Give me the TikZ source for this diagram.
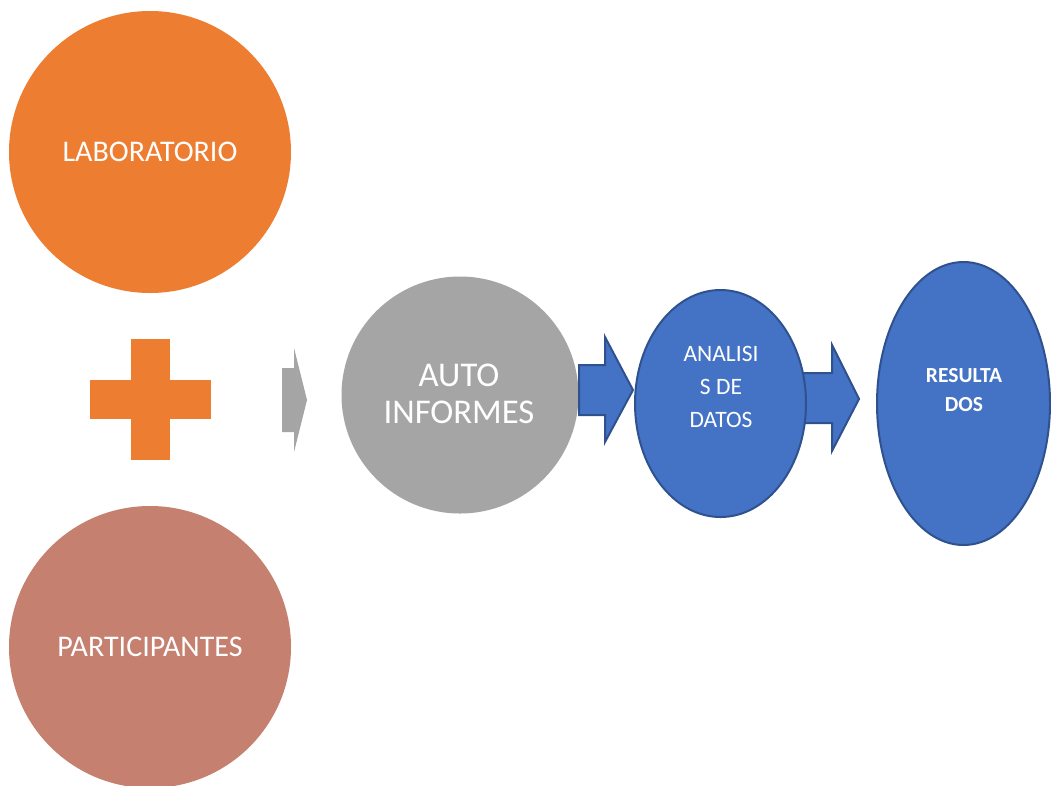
\documentclass[tikz,border=0pt]{standalone}
\usepackage{fontspec}
\setmainfont{Carlito}
\usetikzlibrary{shapes.geometric}
\definecolor{accorange}{HTML}{ED7D31}
\definecolor{accsalmon}{HTML}{C58070}
\definecolor{accgray}{HTML}{A5A5A5}
\definecolor{accblue}{HTML}{4472C4}
\definecolor{accblueline}{HTML}{2F528F}
\begin{document}
\begin{tikzpicture}[x=1pt,y=-1pt,
  disc/.style={circle,inner sep=0pt,text=white,font=\fontsize{30}{35}\selectfont},
  blueoval/.style={ellipse,inner sep=0pt,fill=accblue,draw=accblueline,line width=2pt},
  bluearrow/.style={fill=accblue,draw=accblueline,line width=2pt,line join=miter},
  label/.style={text=white,align=center,inner sep=0pt}]
  \useasboundingbox[fill=white] (0,0) rectangle (1051,785);

  % inputs
  \node[disc,fill=accorange,minimum size=282pt] (lab) at (150,152) {LABORATORIO};
  \node[disc,fill=accsalmon,minimum size=282pt] (part) at (150,647) {PARTICIPANTES};

  % plus sign
  \fill[accorange] (131,339) rectangle (170,460);
  \fill[accorange] (90,380) rectangle (211,419);

  % grey block arrow
  \fill[accgray] (282,368) -- (294,368) -- (294,348) -- (307,400) -- (294,452)
     -- (294,432) -- (282,432) -- cycle;

  % self reports
  \node[disc,fill=accgray,minimum size=237pt] (auto) at (460,395) {};
  \node[label,font=\fontsize{34.7}{37}\selectfont] at (459,394) {AUTO\\INFORMES};

  % blue block arrows
  \draw[bluearrow] (579,365) -- (605,365) -- (605,337) -- (633,390) -- (605,442)
     -- (605,415) -- (579,415) -- cycle;
  \draw[bluearrow] (800,373) -- (832,373) -- (832,345) -- (859,399) -- (832,451)
     -- (832,423) -- (800,423) -- cycle;

  % data analysis and results
  \node[blueoval,minimum width=171pt,minimum height=227pt] (anal) at (720.5,403.5) {};
  \node[label,font=\fontsize{23.5}{33}\selectfont] at (721,387) {ANALISI\\S DE\\DATOS};

  \node[blueoval,minimum width=173pt,minimum height=283pt] (res) at (963.5,403.5) {};
  \node[label,font=\bfseries\fontsize{21.5}{29}\selectfont] at (964,390) {RESULTA\\DOS};
\end{tikzpicture}
\end{document}
